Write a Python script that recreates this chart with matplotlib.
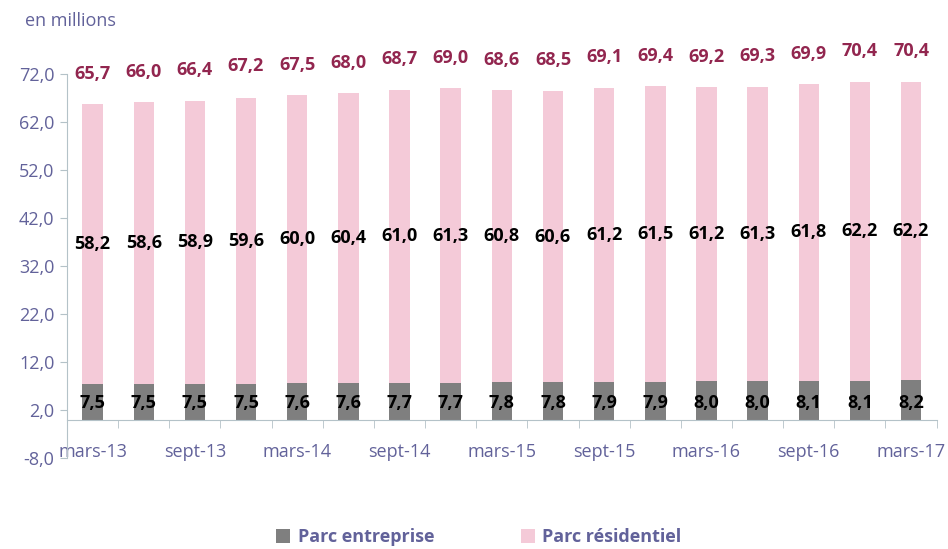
import numpy as np
import matplotlib.pyplot as plt

# quarterly data, en millions
periodes = ['mars-13', 'juin-13', 'sept-13', 'déc-13', 'mars-14', 'juin-14', 'sept-14', 'déc-14',
            'mars-15', 'juin-15', 'sept-15', 'déc-15', 'mars-16', 'juin-16', 'sept-16', 'déc-16', 'mars-17']
entreprise = [7.5, 7.5, 7.5, 7.5, 7.6, 7.6, 7.7, 7.7, 7.8, 7.8, 7.9, 7.9, 8.0, 8.0, 8.1, 8.1, 8.2]
residentiel = [58.2, 58.6, 58.9, 59.6, 60.0, 60.4, 61.0, 61.3, 60.8, 60.6, 61.2, 61.5, 61.2, 61.3, 61.8, 62.2, 62.2]
total = [65.7, 66.0, 66.4, 67.2, 67.5, 68.0, 68.7, 69.0, 68.6, 68.5, 69.1, 69.4, 69.2, 69.3, 69.9, 70.4, 70.4]
yticks = [-8, 2, 12, 22, 32, 42, 52, 62, 72]

txt = '#62629a'
gris = '#7f7f7f'
rose = '#f4cad8'
bordeaux = '#92264f'
axe = '#b4c2c8'

plt.rcParams['font.family'] = ['Open Sans', 'DejaVu Sans']

fig = plt.figure(figsize=(9.48, 5.49), dpi=100)
ax = fig.add_axes([0.0707, 0.1658, 0.9173, 0.6994])

# spine at zero first (this resets the ticks)
for s in ['top', 'right']:
    ax.spines[s].set_visible(False)
ax.spines['left'].set_color(axe)
ax.spines['bottom'].set_color(axe)
ax.spines['bottom'].set_position(('data', 0))

x = np.arange(len(periodes))
ax.bar(x, entreprise, width=0.4, color=gris, label='Parc entreprise')
ax.bar(x, residentiel, width=0.4, bottom=entreprise, color=rose, label='Parc résidentiel')

fmt = lambda v: f'{v:.1f}'.replace('.', ',')
for i in x:
    ax.text(i, 3.5, fmt(entreprise[i]), ha='center', va='center', fontsize=13,
            fontweight='bold', color='black')
    ax.text(i, entreprise[i] + residentiel[i] / 2, fmt(residentiel[i]), ha='center',
            va='center', fontsize=13, fontweight='bold', color='black')
    ax.annotate(fmt(total[i]), (i, total[i]), xytext=(0, 22), textcoords='offset points',
                ha='center', va='center', fontsize=13, fontweight='bold', color=bordeaux,
                annotation_clip=False)

ax.set_xlim(-0.5, len(periodes) - 0.5)
ax.set_ylim(-8, 72)
ax.set_yticks(yticks)
ax.set_yticklabels([fmt(v) for v in yticks], fontsize=13, color=txt)
ax.set_xticks(x[::2])
ax.set_xticklabels(periodes[::2], fontsize=13, color=txt)
ax.set_xticks(np.arange(-0.5, len(periodes)), minor=True)
ax.tick_params(axis='x', which='major', length=0, pad=17)
ax.tick_params(axis='x', which='minor', length=6, color=axe, direction='out')
ax.tick_params(axis='y', length=5, color=axe, pad=4)

fig.text(0.026, 0.962, 'en millions', fontsize=13, color=txt, va='center')

leg = fig.legend(loc='lower center', bbox_to_anchor=(0.505, -0.025), ncol=2, frameon=False,
                 handlelength=0.8, handleheight=0.8, columnspacing=4.8, handletextpad=0.4,
                 prop={'size': 13, 'weight': 'bold'})
for t in leg.get_texts():
    t.set_color(txt)

fig.savefig('out.png', dpi=100)
